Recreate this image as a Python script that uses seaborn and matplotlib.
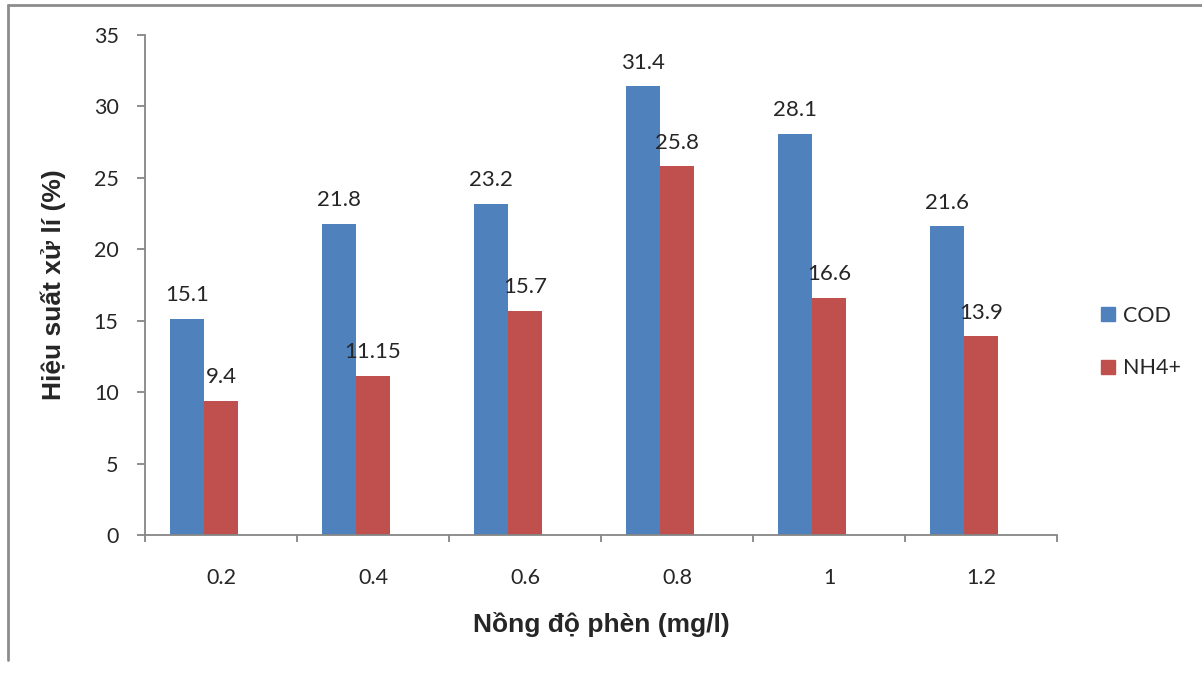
import pandas as pd
import matplotlib
matplotlib.use("Agg")
import matplotlib.pyplot as plt
import matplotlib.lines as mlines
import seaborn as sns

nong_do = ["0.2", "0.4", "0.6", "0.8", "1", "1.2"]
cod = [15.1, 21.8, 23.2, 31.4, 28.1, 21.6]
nh4 = [9.4, 11.15, 15.7, 25.8, 16.6, 13.9]
cod_labels = ["15.1", "21.8", "23.2", "31.4", "28.1", "21.6"]
nh4_labels = ["9.4", "11.15", "15.7", "25.8", "16.6", "13.9"]

df = pd.DataFrame({
    "conc": nong_do * 2,
    "series": ["COD"] * 6 + ["NH4+"] * 6,
    "value": cod + nh4,
})

sns.set_style("white")
plt.rcParams["font.family"] = ["Lato", "Noto Sans", "DejaVu Sans"]

fig = plt.figure(figsize=(12.02, 6.75), dpi=100)
ax = fig.add_axes([145 / 1202, 1 - 535 / 675, (1057 - 145) / 1202, 500 / 675])

# third (empty) slot keeps Excel's cluster offset
sns.barplot(data=df, x="conc", y="value", hue="series",
            order=nong_do, hue_order=["COD", "NH4+", "_"],
            palette={"COD": "#4F81BD", "NH4+": "#C0504D", "_": "#ffffff"},
            width=2 / 3, saturation=1, linewidth=0, errorbar=None,
            legend=False, ax=ax)

for cont, labs in zip(ax.containers[:2], [cod_labels, nh4_labels]):
    ax.bar_label(cont, labels=labs, padding=10, fontsize=16)

ax.set_ylim(0, 35)
ax.set_xlim(-0.5, 5.5)
ax.set_yticks(range(0, 36, 5))
ax.set_xticks(range(6))
ax.set_xticks([i - 0.5 for i in range(7)], minor=True)

grey = "#868686"
for s in ["top", "right"]:
    ax.spines[s].set_visible(False)
for s in ["left", "bottom"]:
    ax.spines[s].set_color(grey)
    ax.spines[s].set_linewidth(1.3)

ax.tick_params(axis="y", which="major", direction="out", length=6, width=1.3,
               color=grey, labelsize=15.5, pad=13, left=True)
ax.tick_params(axis="x", which="major", length=0, labelsize=15.5, pad=24)
ax.tick_params(axis="x", which="minor", direction="out", length=5, width=1.3,
               color=grey, bottom=True)

ax.set_xlabel("Nồng độ phèn (mg/l)", fontsize=19, fontweight="bold",
              family="Liberation Sans", labelpad=17)
ax.set_ylabel("Hiệu suất xử lí (%)", fontsize=19, fontweight="bold",
              family="Liberation Sans", labelpad=20)

handles = [mlines.Line2D([], [], marker="s", linestyle="none", markersize=10,
                         color=c) for c in ["#4F81BD", "#C0504D"]]
fig.legend(handles, ["COD", "NH4+"], loc="center left",
           bbox_to_anchor=(1078 / 1202, 1 - 342 / 675), frameon=False,
           fontsize=15.5, handletextpad=0.2, labelspacing=1.5, handlelength=1)

# outer chart border (top and left visible)
fig.add_artist(mlines.Line2D([8 / 1202, 8 / 1202], [1 - 660 / 675, 1 - 5 / 675],
                             color="#8c8c8c", linewidth=2))
fig.add_artist(mlines.Line2D([8 / 1202, 1], [1 - 5 / 675, 1 - 5 / 675],
                             color="#8c8c8c", linewidth=2))

fig.savefig("out.png", dpi=100)
